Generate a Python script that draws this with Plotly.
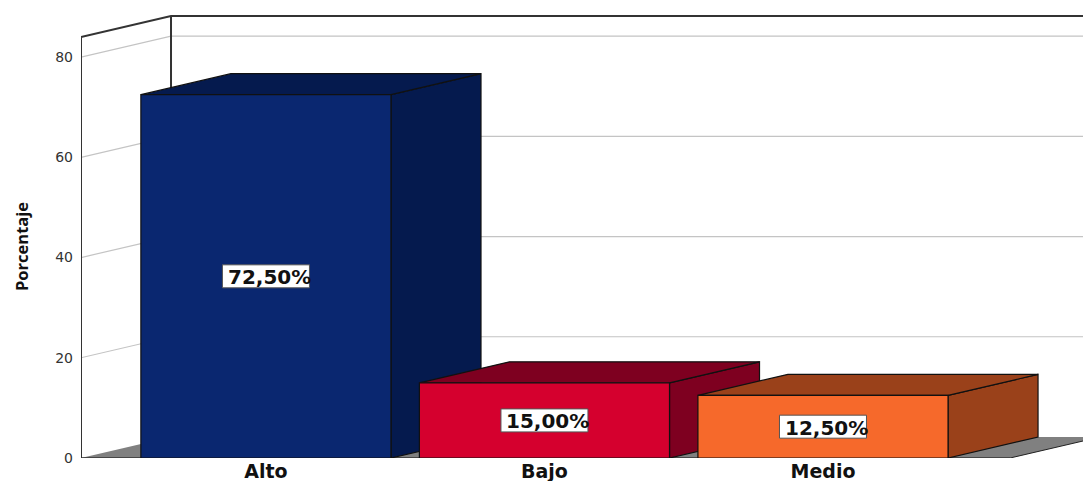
import plotly.graph_objects as go

categories = ["Alto", "Bajo", "Medio"]
percentages = [72.5, 15.0, 12.5]
front_colors = ["#0A2770", "#D5002E", "#F6692B"]
shade_colors = ["#051A4E", "#7E0020", "#9A411A"]
y_ticks = [0, 20, 40, 60, 80]

# Oblique projection: how far the back plane is shifted, in axis units
DEPTH_X = 90 / 278.5
DEPTH_Y = 21 / 5.01
BAR_HALF = 0.449
X_MIN = -0.664
X_FRONT_MAX = 2.672
X_MAX = 2.9336
Y_MAX = 89.4
WALL_TOP = 84.0

EDGE = "#111111"
WALL = "#333333"
GRID = "#c4c4c4"

fig = go.Figure()


def poly(xs, ys, fill=None, line=EDGE, width=1.2):
    fig.add_trace(go.Scatter(
        x=xs, y=ys, mode="lines",
        fill="toself" if fill else None,
        fillcolor=fill,
        line=dict(color=line or "rgba(0,0,0,0)", width=width if line else 0),
        cliponaxis=False, hoverinfo="skip", showlegend=False,
    ))


# Floor
poly([X_MIN, X_MIN + DEPTH_X, X_FRONT_MAX + DEPTH_X, X_FRONT_MAX],
     [0, DEPTH_Y, DEPTH_Y, 0], fill="#808080", line=None)
poly([X_FRONT_MAX, X_FRONT_MAX + DEPTH_X], [0, DEPTH_Y], line="#222222", width=1)

# Gridlines folded across the side wall and the back wall
for t in y_ticks[1:]:
    poly([X_MIN, X_MIN + DEPTH_X, X_MAX], [t, t + DEPTH_Y, t + DEPTH_Y], line=GRID, width=1.2)

# Wall outline and baseline
poly([X_MIN, X_MIN, X_MIN + DEPTH_X, X_MAX],
     [0, WALL_TOP, WALL_TOP + DEPTH_Y, WALL_TOP + DEPTH_Y], line=WALL, width=2)
poly([X_MIN + DEPTH_X, X_MIN + DEPTH_X], [DEPTH_Y, WALL_TOP + DEPTH_Y], line=WALL, width=2)
poly([X_MIN, X_FRONT_MAX], [0, 0], line=WALL, width=1.5)

# Boxes, left to right so that each front face covers its neighbour's side
for i, v in enumerate(percentages):
    l, r = i - BAR_HALF, i + BAR_HALF
    poly([r, r + DEPTH_X, r + DEPTH_X, r, r],
         [0, DEPTH_Y, v + DEPTH_Y, v, 0], fill=shade_colors[i])
    poly([l, l + DEPTH_X, r + DEPTH_X, r, l],
         [v, v + DEPTH_Y, v + DEPTH_Y, v, v], fill=shade_colors[i])
    poly([l, r, r, l, l], [0, 0, v, v, 0], fill=front_colors[i])

    # White plate behind the value label, with the text running slightly past its right edge
    fig.add_shape(
        type="rect", layer="above", xref="x", yref="y",
        xsizemode="pixel", ysizemode="pixel", xanchor=i, yanchor=v / 2,
        x0=-43.5, x1=43.5, y0=-11.5, y1=11.5,
        fillcolor="white", line=dict(color="#555555", width=1),
    )
    fig.add_annotation(
        x=i, y=v / 2, xref="x", yref="y", xshift=3.5, yshift=-1, showarrow=False,
        text=f"{v:.2f}%".replace(".", ","),
        font=dict(family="DejaVu Sans", size=20, color="#111111", weight="bold"),
    )

# Value axis title
fig.add_annotation(
    xref="x domain", yref="y domain", xanchor="center", yanchor="middle",
    x=(21 - 81) / (1083 - 81), y=(458 - 247) / (458 - 10),
    showarrow=False, text="Porcentaje", textangle=-90,
    font=dict(family="Open Sans", size=16.5, color="#111111", weight="bold"),
)

fig.update_layout(
    width=1083, height=481,
    margin=dict(l=81, r=0, t=10, b=23, autoexpand=False),
    paper_bgcolor="white", plot_bgcolor="white",
    xaxis=dict(range=[X_MIN, X_MAX], tickmode="array", tickvals=[0, 1, 2],
               ticktext=categories, showgrid=False, zeroline=False, ticks="",
               ticklabelstandoff=0,
               tickfont=dict(family="DejaVu Sans", size=19, color="#111111", weight="bold")),
    yaxis=dict(range=[0, Y_MAX], tickmode="array", tickvals=y_ticks,
               showgrid=False, zeroline=False, ticks="", ticklabelstandoff=7,
               tickfont=dict(family="DejaVu Sans", size=14, color="#333333")),
    showlegend=False,
)

fig.write_html("out.html", config={"displayModeBar": False})
